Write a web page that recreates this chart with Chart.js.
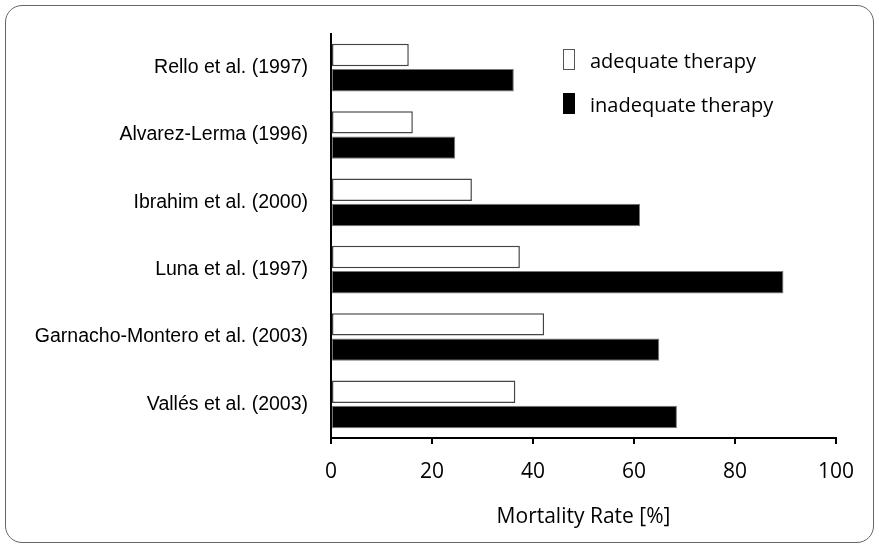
<!DOCTYPE html>
<html>
<head>
<meta charset="utf-8">
<script src="https://cdn.jsdelivr.net/npm/chart.js@4.4.1/dist/chart.umd.min.js"></script>
<style>
  body { margin: 0; background: #fff; }
  #wrap { position: relative; width: 879px; height: 545px; }
  #frame { position: absolute; left: 5px; top: 5px; width: 869px; height: 538px;
           border: 1.5px solid #666; border-radius: 17px; box-sizing: border-box; }
  canvas { position: absolute; left: 0; top: 0; }
</style>
</head>
<body>
<div id="wrap">
  <div id="frame"></div>
  <canvas id="graficoBarras" width="879" height="545"></canvas>
</div>
<script>
const studies = [
    'Rello et al. (1997)',
    'Alvarez-Lerma (1996)',
    'Ibrahim et al. (2000)',
    'Luna et al. (1997)',
    'Garnacho-Montero et al. (2003)',
    'Vallés et al. (2003)'
];
const adequate = [15.4, 16.2, 27.9, 37.4, 42.2, 36.5];
const inadequate = [36.2, 24.6, 61.2, 89.6, 65.0, 68.5];
const xTicks = [0, 20, 40, 60, 80, 100];

// legend drawn in the upper right of the plot, like the original figure
const boxLegend = {
    id: 'boxLegend',
    afterDraw(chart) {
        const ctx = chart.ctx;
        const area = chart.chartArea;
        const x = area.left + 232;
        chart.data.datasets.forEach((ds, i) => {
            const y = area.top + 15 + i * 44;
            ctx.save();
            ctx.fillStyle = ds.backgroundColor;
            ctx.fillRect(x, y, 12, 21);
            ctx.strokeStyle = i === 0 ? '#555' : '#000';
            ctx.lineWidth = 1;
            ctx.strokeRect(x + 0.5, y + 0.5, 11, 20);
            ctx.fillStyle = '#000';
            ctx.font = '20px "Open Sans"';
            ctx.textBaseline = 'middle';
            ctx.fillText(ds.label, x + 27, y + 13);
            ctx.restore();
        });
    }
};

const data = {
    labels: studies,
    datasets: [{
        label: 'adequate therapy',
        data: adequate,
        backgroundColor: '#ffffff',
        borderColor: '#444444',
        borderWidth: 1.5,
        borderSkipped: false,
        categoryPercentage: 0.75,
        barPercentage: 0.89
    }, {
        label: 'inadequate therapy',
        data: inadequate,
        backgroundColor: '#000000',
        borderColor: '#777777',
        borderWidth: 1,
        borderSkipped: false,
        categoryPercentage: 0.75,
        barPercentage: 0.89
    }]
};

const config = {
    type: 'bar',
    data: data,
    options: {
        indexAxis: 'y',
        responsive: false,
        animation: false,
        layout: { padding: { top: 34, right: 43, left: 0, bottom: 0 } },
        scales: {
            x: {
                min: 0,
                max: 100,
                afterBuildTicks: (s) => { s.ticks = xTicks.map(v => ({ value: v })); },
                afterFit: (s) => { s.height = 107; },
                grid: { drawOnChartArea: false, drawTicks: true, tickLength: 6, color: '#000', lineWidth: 2 },
                border: { display: true, color: '#000', width: 2 },
                ticks: { color: '#000', padding: 15, font: { family: 'Open Sans', size: 21 } },
                title: {
                    display: true,
                    text: 'Mortality Rate [%]',
                    color: '#000',
                    font: { family: 'Open Sans', size: 21 },
                    padding: { top: 6, bottom: 15 }
                }
            },
            y: {
                afterFit: (s) => { s.width = 331; },
                grid: { display: false },
                border: { display: true, color: '#000', width: 2 },
                ticks: { color: '#000', padding: 15, font: { family: 'Liberation Sans', size: 19.5 } }
            }
        },
        plugins: {
            legend: { display: false },
            tooltip: { enabled: false }
        }
    },
    plugins: [boxLegend]
};

const graficoBarras = new Chart(
    document.getElementById('graficoBarras'),
    config
);
</script>
</body>
</html>
